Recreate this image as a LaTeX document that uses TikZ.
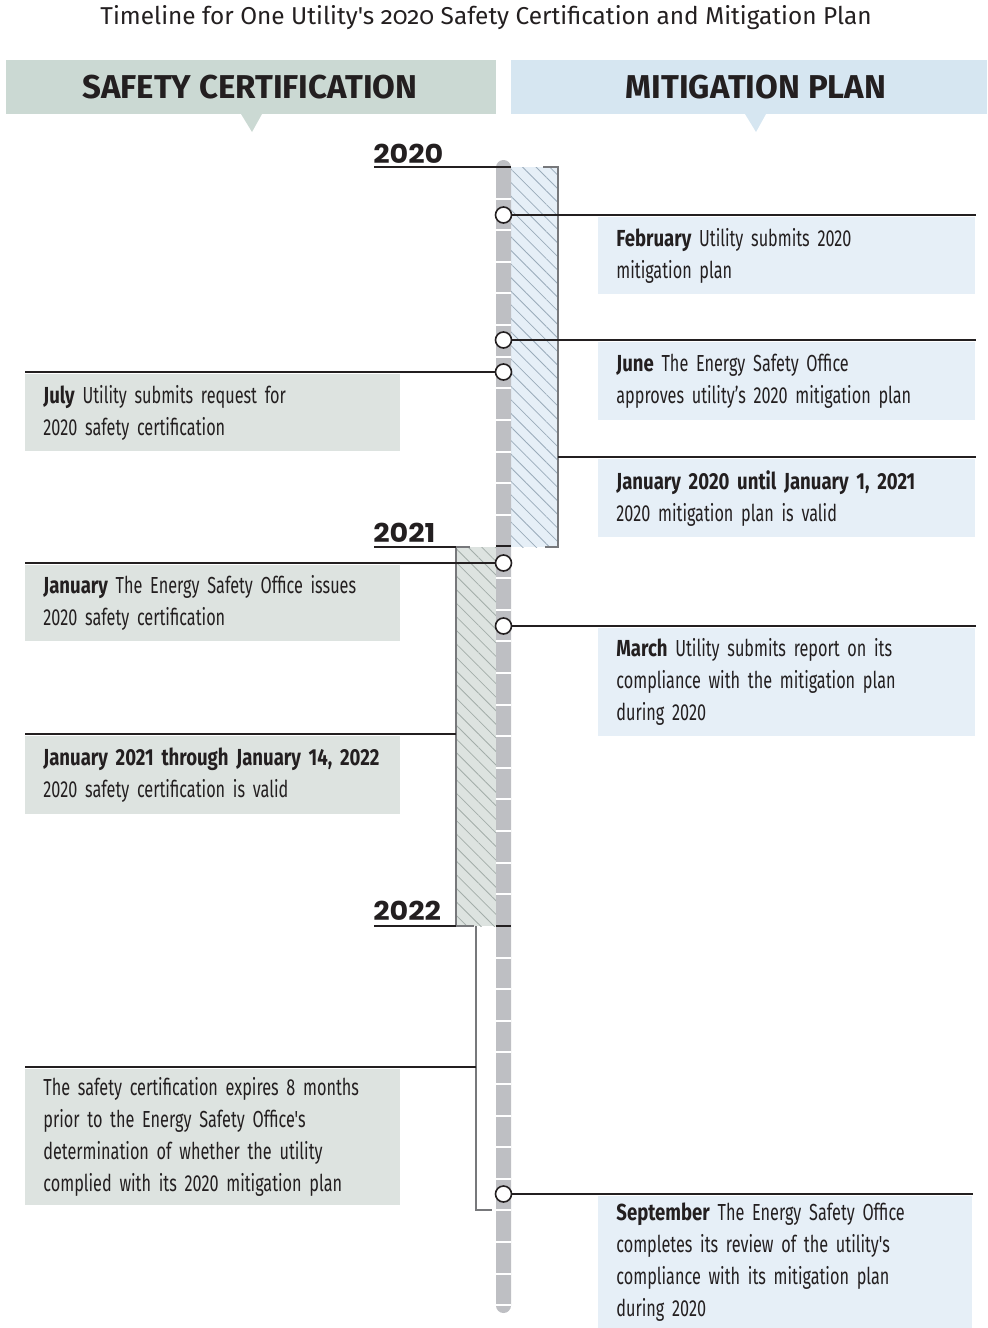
\documentclass[tikz,border=0pt]{standalone}
\usepackage{fontspec}
\setmainfont{Fira Sans}
\newfontfamily\titlefont{Fira Sans}[Numbers=OldStyle]
\newfontfamily\bodyfont{Fira Sans}[FakeStretch=0.7,
  BoldFeatures={FakeStretch=0.8}]
\newfontfamily\headfont{Fira Sans}
\newfontfamily\yearfont{Poppins}[FakeStretch=1.1]
\newcommand\notefont{\bodyfont\fontsize{11.6}{16}\selectfont
  \fontdimen2\font=2.6pt\relax}
\newcommand\when[1]{{\bfseries\fontdimen2\font=2.9pt\relax #1}}
\usetikzlibrary{patterns.meta}

\definecolor{certhead}{HTML}{CBD9D3}
\definecolor{planhead}{HTML}{D6E6F1}
\definecolor{certbox}{HTML}{DDE3E0}
\definecolor{planbox}{HTML}{E6EFF7}
\definecolor{barcol}{HTML}{BEBFC3}
\definecolor{brackcol}{HTML}{77787B}
\definecolor{inkcol}{HTML}{231F20}
\definecolor{certhatch}{HTML}{A3ADA9}
\definecolor{planhatch}{HTML}{9AABBA}

\tikzset{
  x=0.5pt, y=-0.5pt,
  headtext/.style={inner sep=0pt,
    font=\headfont\bfseries\fontsize{16.5}{18}\selectfont, text=inkcol},
  note/.style={anchor=north west, inner xsep=9pt, inner ysep=0pt, align=left,
    minimum height=#1, text=inkcol, font=\notefont},
  certnote/.style={note=#1, fill=certbox, text width=169.5pt},
  plannote/.style={note=#1, fill=planbox, text width=170.5pt},
  event/.style={circle, draw=inkcol, fill=white, line width=0.8pt,
    minimum size=8pt, inner sep=0pt},
  yearlabel/.style={anchor=base west, inner sep=0pt, text=inkcol,
    font=\yearfont\bfseries\fontsize{13}{14}\selectfont},
  leader/.style={draw=inkcol, line width=0.6pt},
  bracket/.style={draw=brackcol, line width=1pt},
  hatch/.style={pattern={Lines[angle=-45,distance=4.8pt,line width=0.4pt]}, pattern color=#1},
}

\begin{document}
\begin{tikzpicture}
  \useasboundingbox (0,0) rectangle (987,1328);

  % title and column heads
  \node[font=\titlefont\fontsize{12.2}{14}\selectfont, text=inkcol] (title) at (486,18)
    {Timeline for One Utility's 2020 Safety Certification and Mitigation Plan};
  \fill[certhead] (6,60) rectangle (496,114);
  \fill[planhead] (511,60) rectangle (987,114);
  \fill[certhead] (241,114) -- (262,114) -- (252,132) -- cycle;
  \fill[planhead] (745,114) -- (766,114) -- (756,132) -- cycle;
  \node[headtext] (certhead) at (250,87) {SAFETY CERTIFICATION};
  \node[headtext] (planhead) at (756,87) {MITIGATION PLAN};

  % validity periods
  \fill[planbox] (511,167) rectangle (558,547);
  \fill[hatch=planhatch] (511,167) rectangle (558,547);
  \fill[certbox] (456,547) rectangle (496,926);
  \fill[hatch=certhatch] (456,547) rectangle (496,926);
  \draw[bracket] (543,167) -- (558,167) -- (558,547) -- (545,547);
  \draw[bracket] (470,547) -- (456,547) -- (456,926) -- (474,926);
  \draw[bracket] (476,926) -- (476,1210) -- (492,1210);

  % timeline bar with month ticks
  \fill[barcol, rounded corners=3.7pt] (496,160) rectangle (511,1313);
  \foreach \m in {1,...,36} {
    \pgfmathsetmacro{\yy}{167+\m*31.62}
    \draw[white, line width=1pt] (496,\yy) -- (511,\yy);
  }
  \foreach \m in {0,12,24} {
    \pgfmathsetmacro{\yy}{167+\m*31.62}
    \draw[inkcol, line width=1pt] (496,\yy) -- (511,\yy);
  }

  % years
  \node[yearlabel] (y2020) at (373,163) {2020};
  \node[yearlabel] (y2021) at (373,542) {2021};
  \node[yearlabel] (y2022) at (373,920) {2022};
  \draw[leader] (374,167) -- (496,167);
  \draw[leader] (374,547) -- (456,547);
  \draw[leader] (374,926) -- (456,926);

  % notes
  \node[plannote=38.5pt] (febnote) at (598,217)
    {\when{February} Utility submits 2020\\mitigation plan};
  \node[plannote=39pt] (junenote) at (598,342)
    {\when{June} The Energy Safety Office\\approves utility’s 2020 mitigation plan};
  \node[plannote=39pt] (planvalid) at (598,459)
    {\when{January 2020 until January 1, 2021}\\2020 mitigation plan is valid};
  \node[plannote=54pt] (marchnote) at (598,628)
    {\when{March} Utility submits report on its\\compliance with the mitigation plan\\during 2020};
  \node[plannote=66pt, text width=169pt] (septnote) at (598,1196)
    {\when{September} The Energy Safety Office\\completes its review of the utility's\\compliance with its mitigation plan\\during 2020};
  \node[certnote=38.5pt] (julynote) at (25,374)
    {\when{July} Utility submits request for\\2020 safety certification};
  \node[certnote=38pt] (jannote) at (25,565)
    {\when{January} The Energy Safety Office issues\\2020 safety certification};
  \node[certnote=39pt] (certvalid) at (25,736)
    {\when{January 2021 through January 14, 2022}\\2020 safety certification is valid};
  \node[certnote=68pt] (expirenote) at (25,1069)
    {The safety certification expires 8 months\\prior to the Energy Safety Office's\\determination of whether the utility\\complied with its 2020 mitigation plan};

  % events
  \node[event] (febdot) at (503.5,215) {};
  \node[event] (junedot) at (503.5,340) {};
  \node[event] (julydot) at (503.5,372) {};
  \node[event] (jandot) at (503.5,563) {};
  \node[event] (marchdot) at (503.5,626) {};
  \node[event] (septdot) at (503.5,1194) {};
  \coordinate (planend) at (558,457);
  \coordinate (certend) at (456,734);
  \coordinate (expireend) at (476,1067);

  % connectors
  \draw[leader] (febdot.east) -- (febdot.east -| febnote.east);
  \draw[leader] (junedot.east) -- (junedot.east -| junenote.east);
  \draw[leader] (marchdot.east) -- (marchdot.east -| marchnote.east);
  \draw[leader] (septdot.east) -- (septdot.east -| septnote.east);
  \draw[leader] (planend) -- (planend -| planvalid.east);
  \draw[leader] (julydot.west) -- (julydot.west -| julynote.west);
  \draw[leader] (jandot.west) -- (jandot.west -| jannote.west);
  \draw[leader] (certend) -- (certend -| certvalid.west);
  \draw[leader] (expireend) -- (expireend -| expirenote.west);
\end{tikzpicture}
\end{document}
